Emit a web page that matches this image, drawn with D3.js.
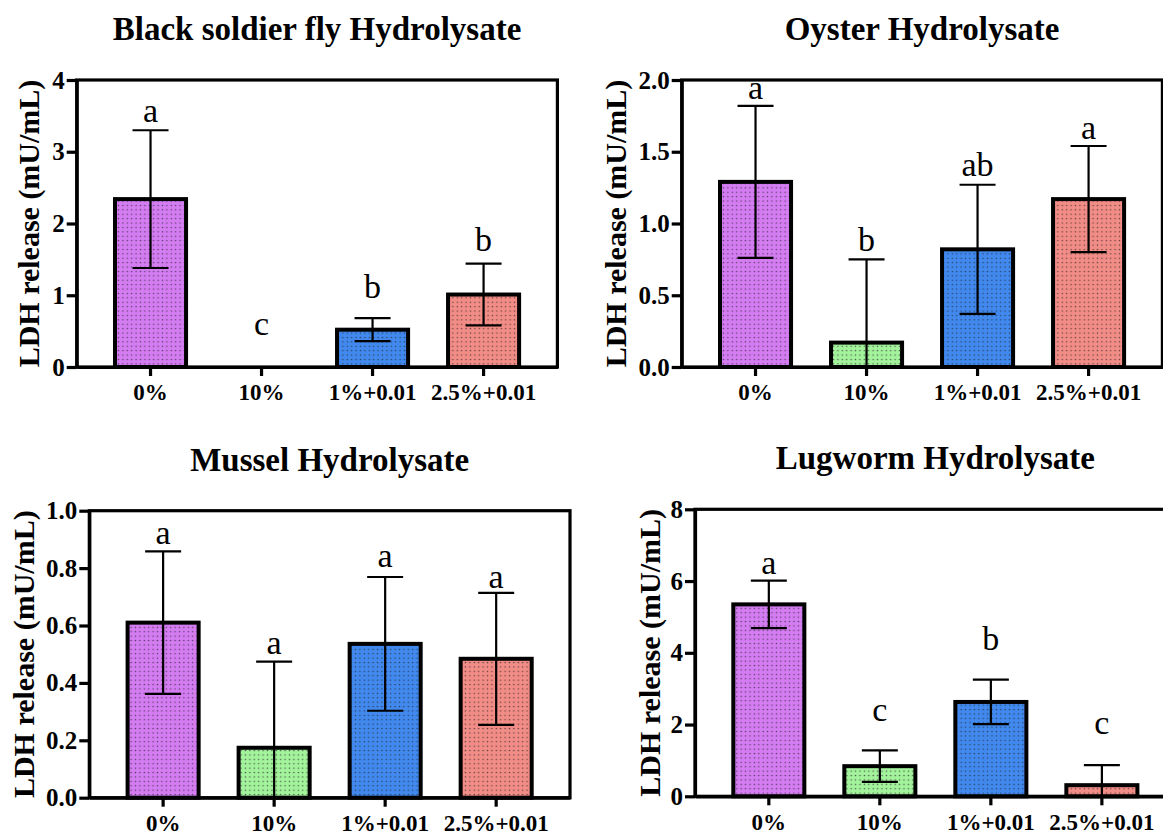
<!DOCTYPE html>
<html>
<head>
<meta charset="utf-8">
<script src="https://cdn.jsdelivr.net/npm/d3@7"></script>
<style>
  body { margin: 0; background: #fff; }
  text { font-family: "Liberation Serif", "Times New Roman", serif; fill: #000; }
</style>
</head>
<body>
<div id="chart"></div>
<script>
// groups on the x axis, shared by all four panels
const groups = ["0%", "10%", "1%+0.01", "2.5%+0.01"];
const colors = ["#d47cf2", "#a3f29c", "#4189ee", "#f28c86"];

// Black soldier fly
const bsfMean = [2.34, 0, 0.52, 1.01];
const bsfSD = [0.96, 0, 0.16, 0.43];
const bsfLetters = ["a", "c", "b", "b"];
const bsfLetterY = [3.42, 0.45, 0.96, 1.61];
const bsfTicks = [0, 1, 2, 3, 4];

// Oyster
const oysMean = [1.29, 0.17, 0.82, 1.17];
const oysSD = [0.53, 0.58, 0.45, 0.37];
const oysLetters = ["a", "b", "ab", "a"];
const oysLetterY = [1.865, 0.81, 1.33, 1.59];
const oysTicks = [0, 0.5, 1.0, 1.5, 2.0];

// Mussel
const musMean = [0.61, 0.174, 0.536, 0.484];
const musSD = [0.248, 0.30, 0.233, 0.23];
const musLetters = ["a", "a", "a", "a"];
const musLetterY = [0.885, 0.502, 0.803, 0.73];
const musTicks = [0, 0.2, 0.4, 0.6, 0.8, 1.0];

// Lugworm
const lugMean = [5.35, 0.84, 2.63, 0.31];
const lugSD = [0.66, 0.44, 0.62, 0.56];
const lugLetters = ["a", "c", "b", "c"];
const lugLetterY = [6.21, 2.09, 4.07, 1.75];
const lugTicks = [0, 2, 4, 6, 8];

const W = 480.7, H = 287;
const serif = "'Liberation Serif', 'Times New Roman', serif";

const panels = [
  { title: "Black soldier fly Hydrolysate", mean: bsfMean, sd: bsfSD, letters: bsfLetters, letterY: bsfLetterY,
    ticks: bsfTicks, fmt: d3.format("d"), left: 76.7, top: 80, labelOff: 48 },
  { title: "Oyster Hydrolysate", mean: oysMean, sd: oysSD, letters: oysLetters, letterY: oysLetterY,
    ticks: oysTicks, fmt: d3.format(".1f"), left: 681.7, top: 80, labelOff: 66 },
  { title: "Mussel Hydrolysate", mean: musMean, sd: musSD, letters: musLetters, letterY: musLetterY,
    ticks: musTicks, fmt: d3.format(".1f"), left: 89.3, top: 510.7, labelOff: 66 },
  { title: "Lugworm Hydrolysate", mean: lugMean, sd: lugSD, letters: lugLetters, letterY: lugLetterY,
    ticks: lugTicks, fmt: d3.format("d"), left: 695, top: 509.3, labelOff: 46 }
];

const svg = d3.select("#chart")
  .append("svg")
  .attr("width", 1163)
  .attr("height", 834)
  .attr("font-family", serif);

// dotted fill patterns
const defs = svg.append("defs");
colors.forEach((c, i) => {
  const p = defs.append("pattern")
    .attr("id", "dots" + i)
    .attr("patternUnits", "userSpaceOnUse")
    .attr("width", 4.4)
    .attr("height", 4.4);
  p.append("rect").attr("width", 4.4).attr("height", 4.4).attr("fill", c);
  p.append("circle").attr("cx", 2.2).attr("cy", 2.2).attr("r", 0.75)
    .attr("fill", "#222").attr("fill-opacity", 0.7);
});

panels.forEach(pn => {
  const g = svg.append("g").attr("transform", `translate(${pn.left},${pn.top})`);

  const x = d3.scaleBand().domain(groups).range([0, W])
    .paddingInner(0.36).paddingOuter(0.345);
  const y = d3.scaleLinear().domain([0, d3.max(pn.ticks)]).range([H, 0]);

  const rows = groups.map((k, i) => ({
    key: k, mean: pn.mean[i], sd: pn.sd[i], letter: pn.letters[i], ly: pn.letterY[i], i
  }));

  // bars
  g.selectAll("rect.bar")
    .data(rows.filter(d => d.mean > 0))
    .join("rect")
    .attr("class", "bar")
    .attr("x", d => x(d.key))
    .attr("y", d => y(d.mean))
    .attr("width", x.bandwidth())
    .attr("height", d => H - y(d.mean))
    .attr("fill", d => `url(#dots${d.i})`)
    .attr("stroke", "#000")
    .attr("stroke-width", 4);

  // error bars
  const cap = 36;
  const eb = g.selectAll("g.err")
    .data(rows.filter(d => d.sd > 0))
    .join("g")
    .attr("class", "err")
    .attr("stroke", "#000")
    .attr("stroke-width", 2.2);
  eb.append("line")
    .attr("x1", d => x(d.key) + x.bandwidth() / 2)
    .attr("x2", d => x(d.key) + x.bandwidth() / 2)
    .attr("y1", d => y(Math.max(0, d.mean - d.sd)))
    .attr("y2", d => y(d.mean + d.sd));
  eb.append("line")
    .attr("x1", d => x(d.key) + x.bandwidth() / 2 - cap / 2)
    .attr("x2", d => x(d.key) + x.bandwidth() / 2 + cap / 2)
    .attr("y1", d => y(d.mean + d.sd))
    .attr("y2", d => y(d.mean + d.sd));
  eb.filter(d => d.mean - d.sd > 0).append("line")
    .attr("x1", d => x(d.key) + x.bandwidth() / 2 - cap / 2)
    .attr("x2", d => x(d.key) + x.bandwidth() / 2 + cap / 2)
    .attr("y1", d => y(d.mean - d.sd))
    .attr("y2", d => y(d.mean - d.sd));

  // frame
  g.append("rect")
    .attr("width", W).attr("height", H)
    .attr("fill", "none").attr("stroke", "#000").attr("stroke-width", 3.2);

  // axes
  const ya = g.append("g")
    .call(d3.axisLeft(y).tickValues(pn.ticks).tickFormat(pn.fmt).tickSize(10).tickSizeOuter(0).tickPadding(2));
  const xa = g.append("g")
    .attr("transform", `translate(0,${H})`)
    .call(d3.axisBottom(x).tickSize(9).tickSizeOuter(0).tickPadding(8));
  [ya, xa].forEach(a => {
    a.attr("font-family", serif);
    a.select(".domain").attr("stroke-width", 3.2);
    a.selectAll(".tick line").attr("stroke-width", 3.2);
    a.selectAll(".tick text")
      .attr("font-family", serif)
      .attr("font-weight", "bold")
      .attr("font-size", "23px")
      .attr("fill", "#000");
  });
  ya.selectAll(".tick text").attr("font-size", "25px");

  // significance letters
  g.selectAll("text.letter")
    .data(rows)
    .join("text")
    .attr("class", "letter")
    .attr("x", d => x(d.key) + x.bandwidth() / 2)
    .attr("y", d => y(d.ly))
    .attr("text-anchor", "middle")
    .attr("font-size", "34px")
    .text(d => d.letter);

  // title
  g.append("text")
    .attr("x", W / 2)
    .attr("y", -40)
    .attr("text-anchor", "middle")
    .attr("font-weight", "bold")
    .attr("font-size", "33px")
    .text(pn.title);

  // y label
  g.append("text")
    .attr("transform", `translate(${-pn.labelOff},${H / 2}) rotate(-90)`)
    .attr("text-anchor", "middle")
    .attr("dy", "0.35em")
    .attr("font-weight", "bold")
    .attr("font-size", "30px")
    .text("LDH release (mU/mL)");
});
</script>
</body>
</html>
